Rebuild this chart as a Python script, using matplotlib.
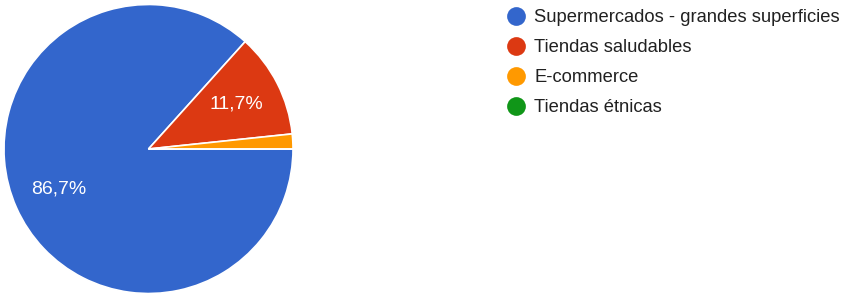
import matplotlib.pyplot as plt

categories = ["Supermercados - grandes superficies", "Tiendas saludables", "E-commerce", "Tiendas étnicas"]
counts = [52, 7, 1, 0]
colors = ["#3366CC", "#DC3912", "#FF9900", "#109618"]

plt.rcParams['font.family'] = ['Liberation Sans', 'DejaVu Sans']

W, H = 858, 295
fig = plt.figure(figsize=(W / 100, H / 100), dpi=100)

# pie axes: center (149,149), radius 144 px
cx, cy, r = 148.5, 149, 144.5
ax = fig.add_axes([(cx - r) / W, (H - cy - r) / H, 2 * r / W, 2 * r / H])

def fmt(p):
    return (f"{p:.1f}%".replace(".", ",")) if p >= 5 else ""

wedges, texts, autotexts = ax.pie(
    counts, colors=colors, startangle=0, counterclock=False,
    autopct=fmt, pctdistance=0.68, radius=1,
    wedgeprops=dict(edgecolor="white", linewidth=1.2),
    textprops=dict(color="white", fontsize=14),
)
ax.set_xlim(-1, 1)
ax.set_ylim(-1, 1)
ax.set_aspect("equal")

# legend overlay in pixel coordinates
lax = fig.add_axes([0, 0, 1, 1])
lax.set_xlim(0, W)
lax.set_ylim(H, 0)
lax.axis("off")
x0, y0, dy = 516, 15.5, 30
for i, (lab, col) in enumerate(zip(categories, colors)):
    y = y0 + i * dy
    lax.scatter([x0], [y], s=13.5 ** 2, color=col, marker="o", linewidths=0)
    lax.text(x0 + 18, y + 6, lab, fontsize=13.2, color="#212121", va="baseline", ha="left")

fig.savefig("out.png", dpi=100)
